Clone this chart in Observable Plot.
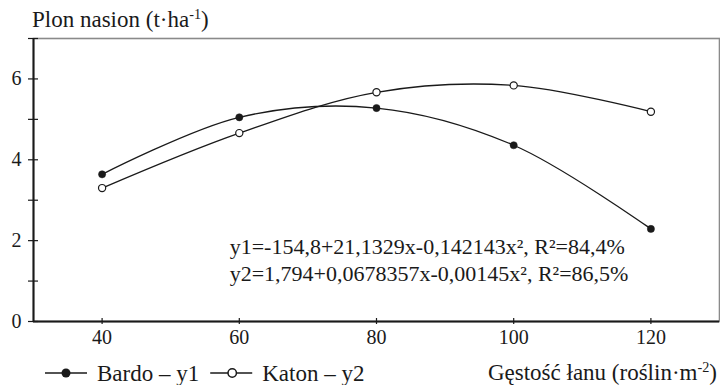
<!DOCTYPE html>
<html>
<head>
<meta charset="utf-8">
<script src="https://cdn.jsdelivr.net/npm/d3@7"></script>
<script src="https://cdn.jsdelivr.net/npm/@observablehq/plot@0.6"></script>
<style>
  html, body { margin: 0; padding: 0; background: #fff; }
  #chart svg { display: block; }
</style>
</head>
<body>
<div id="chart"></div>
<script>
// ---- data ----
const density = [40, 60, 80, 100, 120];
const bardo = [3.64, 5.05, 5.28, 4.36, 2.29];
const katon = [3.30, 4.66, 5.67, 5.84, 5.19];
const seriesNames = ["Bardo – y1", "Katon – y2"];
const xTicks = [40, 60, 80, 100, 120];
const yTicks = [0, 1, 2, 3, 4, 5, 6, 7];
const yLabelTicks = [0, 2, 4, 6];
const equations = [
  "y1=-154,8+21,1329x-0,142143x², R²=84,4%",
  "y2=1,794+0,0678357x-0,00145x², R²=86,5%"
];
const titleText = ["Plon nasion (t·ha", "-1", ")"];
const xLabelText = ["Gęstość łanu (roślin·m", "-2", ")"];

const rows = [
  ...density.map((d, i) => ({x: d, y: bardo[i], s: seriesNames[0]})),
  ...density.map((d, i) => ({x: d, y: katon[i], s: seriesNames[1]}))
];
const bRows = rows.filter(r => r.s === seriesNames[0]);
const kRows = rows.filter(r => r.s === seriesNames[1]);

const ink = "#1a1a1a";
const font = "'Liberation Serif', 'Times New Roman', serif";

const plot = Plot.plot({
  width: 720,
  height: 385,
  marginTop: 38,
  marginBottom: 64,
  marginLeft: 33,
  marginRight: 1,
  style: {fontFamily: font, fontSize: "20px", color: ink, background: "#fff"},
  x: {domain: [30, 130]},
  y: {domain: [0, 7]},
  marks: [
    Plot.frame({stroke: "#8a8a8a", strokeWidth: 1.6}),
    Plot.ruleX([30], {stroke: ink, strokeWidth: 2}),
    Plot.ruleY([0], {stroke: ink, strokeWidth: 2}),
    Plot.axisY({ticks: yTicks, tickSize: 10, dx: 5, tickPadding: 7,
      tickFormat: d => yLabelTicks.includes(d) ? String(d) : "",
      stroke: ink, fill: ink, fontSize: 20, label: null, strokeWidth: 1.2}),
    Plot.axisX({ticks: xTicks, tickSize: 6, dy: -3, tickPadding: 5,
      tickFormat: d => String(d),
      stroke: ink, fill: ink, fontSize: 20, label: null, strokeWidth: 1.2}),
    Plot.line(bRows, {x: "x", y: "y", curve: "catmull-rom", stroke: ink, strokeWidth: 1.3}),
    Plot.line(kRows, {x: "x", y: "y", curve: "catmull-rom", stroke: ink, strokeWidth: 1.3}),
    Plot.dot(bRows, {x: "x", y: "y", r: 3.6, fill: ink, stroke: ink, strokeWidth: 0.5}),
    Plot.dot(kRows, {x: "x", y: "y", r: 3.6, fill: "#fff", stroke: ink, strokeWidth: 1.2}),
    Plot.text([equations[0]], {x: 58.6, y: 1.68, text: d => d, textAnchor: "start", lineAnchor: "bottom", fontSize: 22, fill: ink}),
    Plot.text([equations[1]], {x: 58.6, y: 1.01, text: d => d, textAnchor: "start", lineAnchor: "bottom", fontSize: 22, fill: ink})
  ]
});
document.getElementById("chart").appendChild(plot);

const svg = d3.select(plot);

function supText(x, y, parts, size, anchor) {
  const t = svg.append("text")
    .attr("x", x).attr("y", y)
    .attr("font-family", font).attr("font-size", size)
    .attr("fill", ink).attr("text-anchor", anchor);
  t.append("tspan").text(parts[0]);
  t.append("tspan").attr("font-size", size * 0.62).attr("dy", -size * 0.36).text(parts[1]);
  t.append("tspan").attr("dy", size * 0.36).text(parts[2]);
  return t;
}
supText(32, 27, titleText, 23, "start");
supText(717, 380, xLabelText, 23, "end");

// legend
const ly = 373;
const g1 = svg.append("g");
g1.append("line").attr("x1", 45).attr("x2", 87).attr("y1", ly).attr("y2", ly).attr("stroke", ink).attr("stroke-width", 1.3);
g1.append("circle").attr("cx", 66).attr("cy", ly).attr("r", 4.5).attr("fill", ink);
const t1 = g1.append("text").attr("x", 97).attr("y", 381).attr("text-anchor", "start")
  .attr("font-family", font).attr("font-size", 23).attr("fill", ink).text(seriesNames[0]);
const w1 = t1.node().getComputedTextLength();
const x2 = 97 + w1 + 11;
const g2 = svg.append("g");
g2.append("line").attr("x1", x2).attr("x2", x2 + 42).attr("y1", ly).attr("y2", ly).attr("stroke", ink).attr("stroke-width", 1.3);
g2.append("circle").attr("cx", x2 + 22).attr("cy", ly).attr("r", 4.2).attr("fill", "#fff").attr("stroke", ink).attr("stroke-width", 1.5);
g2.append("text").attr("x", x2 + 52).attr("y", 381).attr("text-anchor", "start")
  .attr("font-family", font).attr("font-size", 23).attr("fill", ink).text(seriesNames[1]);
</script>
</body>
</html>
